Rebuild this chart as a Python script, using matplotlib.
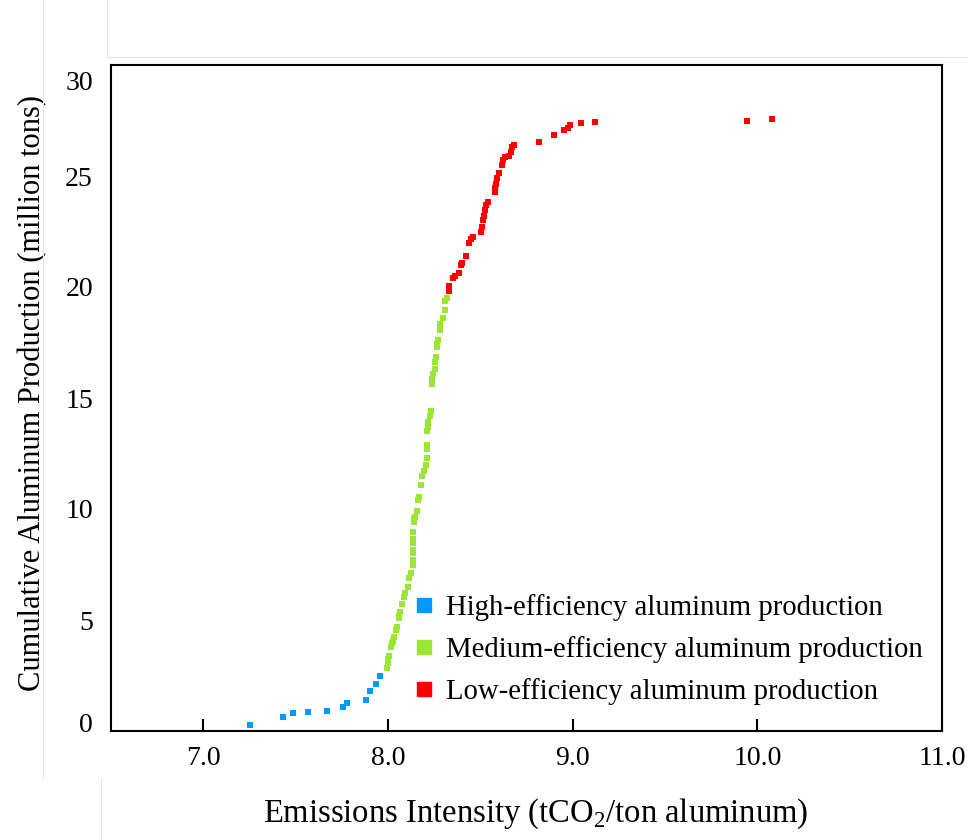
"""Cumulative aluminum production versus emissions intensity."""

import matplotlib

matplotlib.use("Agg")

import matplotlib.pyplot as plt
import matplotlib.transforms as mtransforms
from matplotlib.lines import Line2D

plt.rcParams["font.family"] = ["Liberation Serif", "DejaVu Serif"]
plt.rcParams["mathtext.fontset"] = "custom"
plt.rcParams["mathtext.rm"] = "Liberation Serif"

# emissions intensity (tCO2/ton) and cumulative production (million tons)
high_x = [7.255, 7.43, 7.485, 7.567, 7.667, 7.755, 7.776, 7.879, 7.90, 7.935, 7.958]
high_y = [0.27, 0.63, 0.82, 0.87, 0.90, 1.09, 1.26, 1.40, 1.80, 2.13, 2.46]

medium_x = [7.995, 7.998, 8.002, 8.007, 8.016, 8.020, 8.026, 8.034, 8.043, 8.051,
            8.058, 8.062, 8.067, 8.076, 8.085, 8.094, 8.107, 8.116, 8.123, 8.134,
            8.134, 8.134, 8.138, 8.138, 8.138, 8.138, 8.143, 8.143, 8.147, 8.156,
            8.161, 8.170, 8.176, 8.185, 8.197, 8.207, 8.210, 8.212, 8.212, 8.212,
            8.215, 8.219, 8.228, 8.234, 8.236, 8.238, 8.243, 8.252, 8.257, 8.261,
            8.266, 8.268, 8.270, 8.279, 8.281, 8.284, 8.297, 8.306, 8.310, 8.321]
medium_y = [2.85, 3.05, 3.25, 3.4, 3.8, 3.95, 4.05, 4.25, 4.55, 4.7,
            5.1, 5.2, 5.35, 5.7, 6.05, 6.2, 6.5, 6.9, 7.1, 7.5,
            7.7, 8.0, 8.15, 8.45, 8.65, 8.95, 9.4, 9.55, 9.65, 9.9,
            10.4, 10.55, 11.1, 11.5, 11.7, 12.0, 12.3, 12.7, 12.9, 13.5,
            13.7, 13.9, 14.2, 14.4, 15.65, 15.85, 16.1, 16.3, 16.6, 16.85,
            17.3, 17.45, 17.6, 18.05, 18.2, 18.35, 18.6, 18.95, 19.35, 19.5]

low_x = [8.328, 8.333, 8.352, 8.364, 8.384, 8.393, 8.400, 8.420, 8.436, 8.448,
         8.460, 8.502, 8.509, 8.515, 8.518, 8.523, 8.533, 8.542, 8.578, 8.582,
         8.583, 8.592, 8.602, 8.618, 8.623, 8.636, 8.654, 8.665, 8.674, 8.683,
         8.819, 8.898, 8.955, 8.973, 8.985, 9.045, 9.121, 9.946, 10.078]
low_y = [19.8, 20.05, 20.4, 20.5, 20.65, 21.0, 21.1, 21.4, 22.0, 22.15,
         22.25, 22.5, 22.7, 23.0, 23.2, 23.45, 23.7, 23.85, 24.3, 24.45,
         24.65, 24.9, 25.15, 25.5, 25.7, 25.85, 25.9, 26.1, 26.3, 26.4,
         26.55, 26.85, 27.05, 27.15, 27.3, 27.4, 27.45, 27.5, 27.55]

groups = ["High-efficiency aluminum production",
          "Medium-efficiency aluminum production",
          "Low-efficiency aluminum production"]
colors = ["#0099ff", "#99e633", "#ff0000"]

x_ticks = [7.0, 8.0, 9.0, 10.0, 11.0]
y_ticks = [0, 5, 10, 15, 20, 25, 30]

fig = plt.figure(figsize=(9.68, 8.4), dpi=100)
ax = fig.add_axes([111 / 968, 1 - 731 / 840, (942 - 111) / 968, (731 - 65) / 840])

for xs, ys, c in zip([high_x, medium_x, low_x], [high_y, medium_y, low_y], colors):
    ax.scatter(xs, ys, marker="s", s=13, color=c, linewidths=0, zorder=3)

ax.set_xlim(6.5, 11.0)
ax.set_ylim(0, 30)
ax.set_xticks(x_ticks)
ax.set_xticklabels([f"{t:.1f}" for t in x_ticks])
ax.set_yticks(y_ticks)
ax.set_yticklabels([str(t) for t in y_ticks])
ax.tick_params(axis="x", direction="in", length=9, width=1.5, pad=11, labelsize=20)
ax.tick_params(axis="y", length=0, pad=13, labelsize=20)
for sp in ax.spines.values():
    sp.set_linewidth(1.5)
    sp.set_color("black")

# end labels sit a little inside the axis range
ylabels = ax.get_yticklabels()
ylabels[0].set_transform(ylabels[0].get_transform()
                         + mtransforms.ScaledTranslation(0, 6 / 72, fig.dpi_scale_trans))
ylabels[-1].set_transform(ylabels[-1].get_transform()
                          + mtransforms.ScaledTranslation(0, -11 / 72, fig.dpi_scale_trans))

ax.set_xlabel(r"Emissions Intensity (tCO$_\mathrm{2}$/ton aluminum)", fontsize=23.5)
ax.set_ylabel("Cumulative Aluminum Production (million tons)", fontsize=22)
ax.xaxis.set_label_coords(0.5114, -0.098)
ax.yaxis.set_label_coords(-0.077, 0.508)

handles = [Line2D([], [], marker="s", linestyle="none", markersize=9.5, color=c) for c in colors]
ax.legend(handles, groups, loc="upper left", bbox_to_anchor=(416 / 968, 1 - 594 / 840),
          bbox_transform=fig.transFigure, frameon=False, fontsize=20.7, borderpad=0,
          borderaxespad=0, handlelength=0.55, handletextpad=0.5, labelspacing=0.52)

# faint screenshot frame lines
for (x0, y0, x1, y1) in [(43, 0, 43, 778), (101, 778, 101, 840), (107, 0, 107, 57), (107, 57, 968, 57)]:
    fig.add_artist(Line2D([x0 / 968, x1 / 968], [1 - y0 / 840, 1 - y1 / 840],
                          transform=fig.transFigure, color="#e6e6e6", linewidth=0.8))

fig.savefig("out.png", dpi=100)
plt.close(fig)
